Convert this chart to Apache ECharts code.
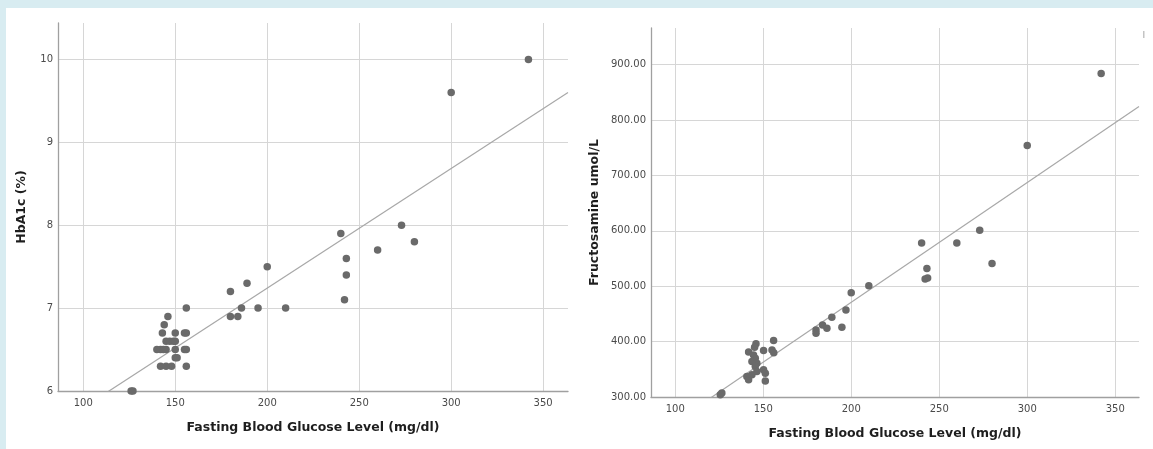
<!DOCTYPE html>
<html>
<head>
<meta charset="utf-8">
<script src="https://cdn.jsdelivr.net/npm/echarts@6/dist/echarts.min.js"></script>
<style>
  html, body { margin: 0; padding: 0; width: 1153px; height: 449px; background: #d8ecf1; overflow: hidden; }
  #panel { position: absolute; left: 6px; top: 8px; width: 1147px; height: 441px; background: #ffffff; }
  #chart { position: absolute; left: 0; top: 0; width: 1153px; height: 449px; }
</style>
</head>
<body>
<div id="panel"></div>
<div id="chart"></div>
<script>
// ---- Left panel: HbA1c vs fasting glucose ----
const glucoseA = [126, 127, 142, 145, 148, 156, 150, 151, 140, 142, 143.5, 145, 150, 155, 156,
  145, 147, 149, 150, 143, 150, 155, 156, 144, 146, 156,
  180, 180, 184, 186, 189, 195, 200, 210,
  240, 243, 243, 242, 260, 273, 280, 300, 342];
const hba1c = [6.0, 6.0, 6.3, 6.3, 6.3, 6.3, 6.4, 6.4, 6.5, 6.5, 6.5, 6.5, 6.5, 6.5, 6.5,
  6.6, 6.6, 6.6, 6.6, 6.7, 6.7, 6.7, 6.7, 6.8, 6.9, 7.0,
  7.2, 6.9, 6.9, 7.0, 7.3, 7.0, 7.5, 7.0,
  7.9, 7.6, 7.4, 7.1, 7.7, 8.0, 7.8, 9.6, 10.0];
const fitA = [4.355, 0.01443]; // intercept, slope

// ---- Right panel: Fructosamine vs fasting glucose ----
const glucoseB = [125.6, 126.5, 141.7, 145.9, 145.1, 150.2, 155, 156, 155.9, 144.5, 145.5, 143.6, 146.4,
  145.5, 150.2, 151.2, 140.7, 141.7, 143.6, 151.2, 146.4,
  180, 180, 183.7, 186.2, 189, 194.7, 197, 200, 210,
  240, 243, 242, 243.4, 260, 273, 280, 300, 342];
const fructosamine = [304, 307, 381, 396, 390, 384, 385, 380, 402, 376, 370, 364, 361,
  355, 349, 343, 337, 331, 340, 329, 346,
  421, 415, 430, 424, 444, 426, 457, 488, 501,
  578, 532, 513, 515, 578, 601, 541, 754, 884];
const fitB = [38.6, 2.162]; // intercept, slope

// ---- Tick labels ----
const xTicks = [100, 150, 200, 250, 300, 350];
const yTicksA = [6, 7, 8, 9, 10];
const yTicksB = [300, 400, 500, 600, 700, 800, 900];

const xRange = [86.25, 363.5];

const pairs = (xs, ys) => xs.map((x, i) => [x, ys[i]]);
const fitLine = (f) => xRange.map(x => [x, f[0] + f[1] * x]);

const labelFont = { fontFamily: 'DejaVu Sans', fontSize: 10, color: '#4a4a4a' };
const nameFont = { fontFamily: 'DejaVu Sans', fontSize: 12.5, fontWeight: 'bold', color: '#1e1e1e' };
const gridLine = { show: true, lineStyle: { color: '#d6d6d6', width: 1 } };
const axisLn = { show: true, lineStyle: { color: '#a0a0a0', width: 1.3 } };

function xAxisCfg(gridIndex) {
  return {
    type: 'value', gridIndex, min: xRange[0], max: xRange[1],
    name: 'Fasting Blood Glucose Level (mg/dl)', nameLocation: 'middle', nameGap: 30,
    nameTextStyle: nameFont,
    axisLine: axisLn,
    axisTick: { show: false, customValues: xTicks },
    axisLabel: Object.assign({ customValues: xTicks, margin: 7 }, labelFont),
    splitLine: gridLine
  };
}

const chart = echarts.init(document.getElementById('chart'), null, { renderer: 'canvas' });
chart.setOption({
  animation: false,
  backgroundColor: 'transparent',
  grid: [
    { left: 58, top: 23, width: 510, height: 368, containLabel: false },
    { left: 651, top: 28, width: 488, height: 369, containLabel: false }
  ],
  xAxis: [xAxisCfg(0), xAxisCfg(1)],
  yAxis: [
    {
      type: 'value', gridIndex: 0, min: 6, max: 10.44,
      name: 'HbA1c (%)', nameLocation: 'middle', nameGap: 30, nameTextStyle: nameFont,
      axisLine: axisLn,
      axisTick: { show: false, customValues: yTicksA },
      axisLabel: Object.assign({ customValues: yTicksA, margin: 5 }, labelFont),
      splitLine: gridLine
    },
    {
      type: 'value', gridIndex: 1, min: 300, max: 966,
      name: 'Fructosamine umol/L', nameLocation: 'middle', nameGap: 50, nameTextStyle: nameFont,
      axisLine: axisLn,
      axisTick: { show: false, customValues: yTicksB },
      axisLabel: Object.assign({ customValues: yTicksB, margin: 5, formatter: v => v.toFixed(2) }, labelFont),
      splitLine: gridLine
    }
  ],
  series: [
    {
      type: 'line', xAxisIndex: 0, yAxisIndex: 0, data: fitLine(fitA),
      showSymbol: false, symbol: 'none', clip: true, silent: true,
      lineStyle: { color: '#a8a8a8', width: 1.2 }, z: 2
    },
    {
      type: 'scatter', xAxisIndex: 0, yAxisIndex: 0, data: pairs(glucoseA, hba1c),
      symbolSize: 7.5, itemStyle: { color: '#6a6a6a', opacity: 1 }, z: 3
    },
    {
      type: 'line', xAxisIndex: 1, yAxisIndex: 1, data: fitLine(fitB),
      showSymbol: false, symbol: 'none', clip: true, silent: true,
      lineStyle: { color: '#a8a8a8', width: 1.2 }, z: 2
    },
    {
      type: 'scatter', xAxisIndex: 1, yAxisIndex: 1, data: pairs(glucoseB, fructosamine),
      symbolSize: 7.5, itemStyle: { color: '#6a6a6a', opacity: 1 }, z: 3
    }
  ],
  graphic: [
    { type: 'rect', shape: { x: 1143, y: 31, width: 1.5, height: 7 }, style: { fill: '#c4c4c4' } }
  ]
});
</script>
</body>
</html>
